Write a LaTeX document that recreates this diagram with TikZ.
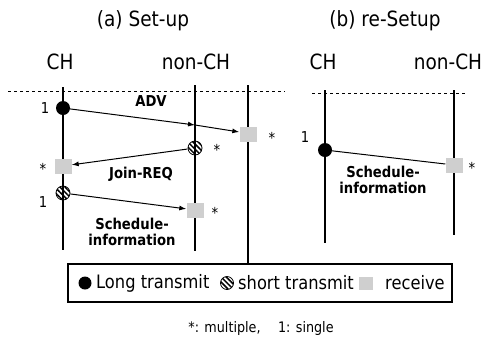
\documentclass[tikz,border=0pt]{standalone}
\usepackage{fontspec}
\setmainfont{DejaVu Sans}[FakeStretch=0.88]
\usepackage{tikz}
\usetikzlibrary{arrows.meta,patterns.meta,calc}

\begin{document}
\begin{tikzpicture}[
  x=1pt,y=-1pt,
  head/.style={font=\fontsize{21}{23}\selectfont,inner sep=0pt},
  msg/.style={font=\bfseries\fontsize{15}{16}\selectfont,align=center,inner sep=0pt},
  tag/.style={font=\fontsize{15}{17}\selectfont,inner sep=0pt},
  keytext/.style={anchor=west,font=\fontsize{18.5}{20}\selectfont,inner sep=0pt},
  life/.style={line width=1.1pt},
  sep/.style={dashed,line width=.8pt},
  longtx/.style={circle,fill=black,minimum size=14pt,inner sep=0pt},
  shorttx/.style={circle,draw,line width=.8pt,minimum size=14pt,inner sep=0pt,
    pattern={Lines[angle=-45,distance=3.6pt,line width=1.5pt]}},
  rcv/.style={rectangle,fill=gray!38,minimum width=17pt,minimum height=15pt,inner sep=0pt},
  arr/.style={-{Latex[length=7pt,width=5pt]},line width=1pt}
]
\useasboundingbox (0,0) rectangle (486,341);
% titles and lifelines
\node[head] (ta) at (143,21) {(a) Set-up};
\node[head] (tb) at (385,21) {(b) re-Setup};
\node[head] (cha) at (60,62) {CH};
\node[head] (nca) at (196,62) {non-CH};
\node[head] (chb) at (323,62) {CH};
\node[head] (ncb) at (448,62) {non-CH};
\draw[sep] (8,91) -- (285,91);
\draw[sep] (312,93) -- (467,93);
\coordinate (a1top) at (63,87);   \coordinate (a1bot) at (63,250);
\coordinate (a2top) at (195,85);  \coordinate (a2bot) at (195,251);
\coordinate (a3top) at (248,85);  \coordinate (a3bot) at (248,264);
\coordinate (b1top) at (325,90);  \coordinate (b1bot) at (325,243);
\coordinate (b2top) at (454,90);  \coordinate (b2bot) at (454,235);
\foreach \l in {a1,a2,a3,b1,b2} \draw[life] (\l top) -- (\l bot);

% (a) set-up
\node[longtx] (advtx) at (63,108) {};
\node[tag] (n1) at (45,108) {1};
\node[msg] (advlbl) at (151,101) {ADV};
\coordinate (advmid) at (195,125);
\node[rcv] (advrx) at (248,134.5) {};
\node[tag] (s1) at (272,138) {*};
\draw[arr] (advtx) -- (advmid);
\draw[arr] (advmid) -- ([yshift=2.5pt]advrx.west);

\node[shorttx] (reqtx) at (195,148) {};
\node[tag] (s2) at (217,150) {*};
\node[rcv] (reqrx) at (63,166) {};
\node[tag] (s3) at (43,169) {*};
\draw[arr] (reqtx) -- (reqrx);
\node[msg] (reqlbl) at (141,174) {Join-REQ};

\node[shorttx] (schtx) at (63,193) {};
\node[tag] (n2) at (43,202) {1};
\node[rcv] (schrx) at (195,210) {};
\node[tag] (s4) at (215,213) {*};
\draw[arr] (schtx) -- (schrx);
\node[msg] (schlbl) at (132,232) {Schedule-\\information};

% (b) re-setup
\node[longtx] (rstx) at (325,150) {};
\node[tag] (n3) at (305,137) {1};
\node[rcv] (rsrx) at (454,165) {};
\node[tag] (s5) at (472,168) {*};
\draw[line width=1pt] (rstx) -- (rsrx);
\node[msg] (rslbl) at (383,180) {Schedule-\\information};

% legend
\node[draw,line width=1.2pt,minimum width=384pt,minimum height=38pt,inner sep=0pt] (key) at (260,283) {};
\node[longtx,minimum size=13pt] (klong) at (85,283) {};
\node[keytext] (tlong) at (96,283) {Long transmit};
\node[shorttx,minimum size=13pt] (kshort) at (227,283) {};
\node[keytext] (tshort) at (238,283) {short transmit};
\node[rcv,minimum width=14pt,minimum height=13pt] (krcv) at (366,283) {};
\node[keytext] (trcv) at (385,283) {receive};
\node[font=\fontsize{14.5}{16}\selectfont,inner sep=0pt] (note) at (261,328) {*: multiple,\hspace{1.2em}1: single};
\end{tikzpicture}
\end{document}
